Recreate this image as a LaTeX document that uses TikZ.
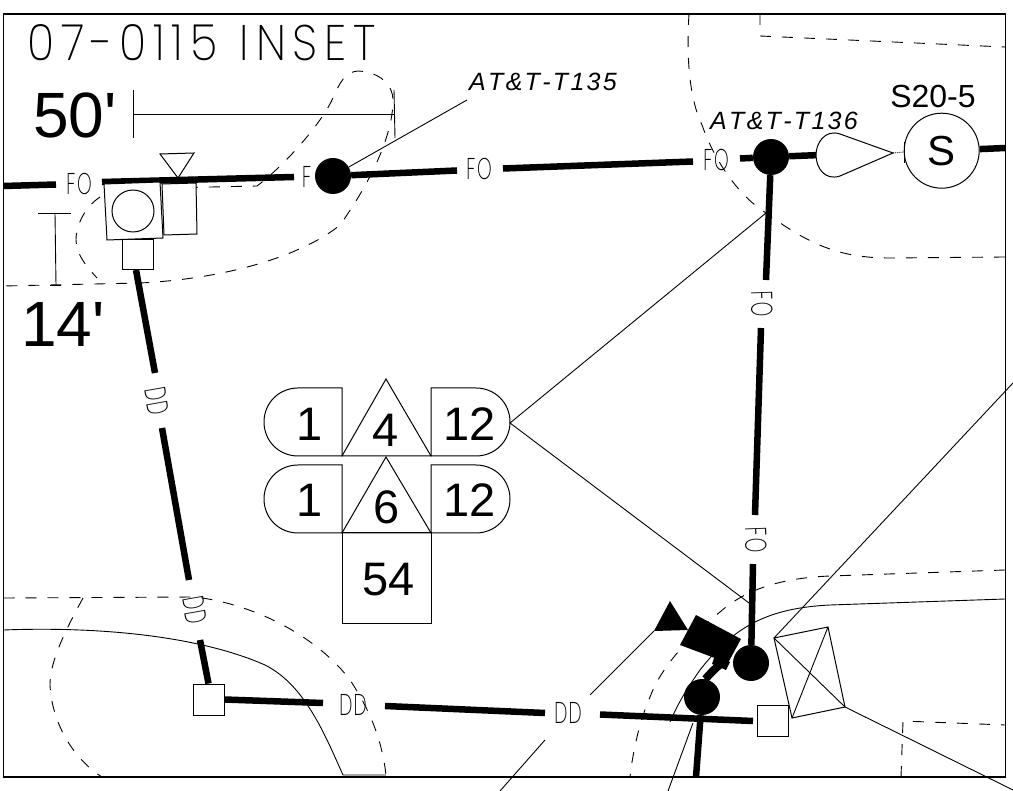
\documentclass[tikz,border=0pt]{standalone}
\usepackage{fontspec}
\setmainfont{Liberation Sans}
\newfontfamily\dimf{Liberation Sans}
\newfontfamily\thinf{Poppins ExtraLight}
\newfontfamily\titlef[LetterSpace=15]{Poppins ExtraLight}
\usetikzlibrary{calc}
\tikzset{x=1pt,y=-1pt,
 hair/.style={line width=0.9pt},
 thick run/.style={line width=6.5pt,line cap=butt},
 dash run/.style={line width=0.9pt,dash pattern=on 11pt off 11pt},
 blackdot/.style={circle,fill=black,minimum size=36pt,inner sep=0pt},
 whitesq/.style={draw,fill=white,line width=0.9pt,minimum size=31pt,inner sep=0pt},
 fo/.style={inner sep=0pt,font=\thinf\fontsize{30}{30}\selectfont,xscale=.62},
 big/.style={inner sep=0pt,font=\dimf\fontsize{64}{64}\selectfont},
 num/.style={inner sep=0pt,font=\fontsize{47}{47}\selectfont},
 tag/.style={inner sep=0pt,font=\itshape\fontsize{25}{26}\selectfont,anchor=west},
}
\newcommand{\spk}{\kern2.3pt}
\begin{document}
\begin{tikzpicture}
\useasboundingbox (0,0) rectangle (1013,791);
% dashed boundaries
\draw[dash run] (165,188) -- (257,186) .. controls (285,165) and (320,125) .. (332,100) .. controls (340,82) and (345,72) .. (358,71) .. controls (380,72) and (393,85) .. (393,100) .. controls (393,140) and (365,190) .. (340,225) .. controls (310,250) and (240,278) .. (140,283) -- (3.5,286);
\draw[dash run] (100,197) .. controls (85,207) and (76,225) .. (76,240) .. controls (76,255) and (88,268) .. (97,278);
\draw[dash run] (689,14) .. controls (686,60) and (690,100) .. (702,125) .. controls (718,170) and (745,200) .. (766,213) .. controls (810,245) and (840,258) .. (890,258) -- (1005,257);
\draw[dash run] (760,14) -- (760,36) -- (1005,47);
\draw[dash run] (1005,570) -- (830,576) .. controls (780,578) and (745,590) .. (720,612) .. controls (685,640) and (660,670) .. (650,697) .. controls (640,720) and (633,750) .. (630,777);
\draw[dash run] (901,777) -- (903,721) -- (1005,725);
\draw[dash run] (3.5,598) -- (195,597) .. controls (260,605) and (320,640) .. (350,680) .. controls (370,710) and (382,740) .. (386,775);
\draw[dash run] (83,598) .. controls (60,640) and (50,665) .. (50,685) .. controls (52,725) and (75,760) .. (102,777);
% solid curves
\draw[hair] (3.5,630) .. controls (80,627) and (190,632) .. (265,665) .. controls (305,685) and (325,735) .. (343,775) -- (386,775);
\draw[hair] (1005,599) -- (830,605) .. controls (770,608) and (735,625) .. (700,670) .. controls (688,687) and (678,703) .. (670,722);
% frame
\draw[line width=1.2pt] (3.5,14) rectangle (1005.5,777);
% title
\node[inner sep=0pt,anchor=west,font=\titlef\fontsize{50}{50}\selectfont,xscale=.9] (title) at (27,43) {07-0115\hspace{.5em}INSET};
% dimensions
\node[big,anchor=west] (d50) at (33,115) {50'};
\node[big,anchor=west] (d14) at (21,324) {14'};
\draw[hair] (133,90) -- (133,138);
\draw[hair] (133,114) -- (394,114);
\draw[hair] (394,90) -- (395,138);
\draw[hair] (38,213) -- (71,213);
\draw[hair] (55,213) -- (56,285);
\draw[hair] (50,285) -- (61,285);
% thick runs and dots
\coordinate (mainL) at (3.5,186);
\coordinate (mainR) at (1005.5,148);
\node[blackdot] (t135) at (333,176) {};
\node[blackdot] (t136) at (771,157) {};
\node[blackdot] (dotA) at (751,663) {};
\node[blackdot] (dotB) at (702,697) {};
\node[circle,draw,fill=white,line width=1pt,minimum size=75pt,inner sep=0pt,font=\fontsize{42}{42}\selectfont] (sw) at (941.7,150.7) {S};
\node[whitesq] (sqL) at (208.5,699.5) {};
\node[whitesq] (sqR) at (772.5,720.5) {};
\coordinate (sqRgap) at (753,721);
\draw[thick run] (mainL) -- (56,184.5);
\draw[thick run] (102,182) -- (294,177);
\draw[thick run] (t135) -- (457,170.5);
\draw[thick run] (503,168.5) -- (693,161.5);
\draw[thick run] (740,158.5) -- (t136);
\draw[thick run] (t136) -- (820,155);
\draw[thick run] (sw) -- (mainR);
\draw[thick run] (t136) -- (766,280);
\draw[thick run] (761,328) -- (755,515);
\draw[thick run] (753,564) -- (dotA);
\draw[thick run] (136,270) -- (155,373);
\draw[thick run] (162,428) -- (189,580);
\draw[thick run] (200,640) -- (sqL.north);
\draw[thick run] (sqL.east) -- (323,703);
\draw[thick run] (385,706) -- (545,713);
\draw[thick run] (600,714.5) -- (sqRgap);
\draw[thick run] (dotB) -- (696,777);
\draw[line width=8pt] (dotB) .. controls (704,682) and (710,672) .. (722,663);
% FO / DD labels
\node[fo] (fo1) at (79,184) {F\kern3pt O};
\node[fo,anchor=west] (fo2) at (302,177) {F};
\node[fo] (fo3) at (479,169) {F\kern3pt O};
\node[fo] (fo4) at (716,160) {F\kern3pt O};
\node[rotate=-88,fo] (fo5) at (762,304) {F\kern3pt O};
\node[rotate=-88,fo] (fo6) at (756,540) {F\kern3pt O};
\node[rotate=-80,fo] (dd1) at (157,401) {D\kern2pt D};
\node[rotate=-80,fo] (dd2) at (195,610) {D\kern2pt D};
\node[fo] (dd3) at (353,705) {D\kern2pt D};
\node[fo] (dd4) at (568,713) {D\kern2pt D};
% tags
\node[tag] (tag135) at (469,82) {A\spk T\spk \&\spk T\spk -\spk T\spk 1\spk 3\spk 5};
\node[tag] (tag136) at (710,121) {A\spk T\spk \&\spk T\spk -\spk T\spk 1\spk 3\spk 6};
\node[inner sep=0pt,font=\fontsize{32}{32}\selectfont] (s205) at (933,96) {S20-5};
\coordinate (lead135) at (467,100);
\draw[hair] (t135) -- (lead135);
% pole assembly
\draw[line width=1pt,fill=white] (162,184) -- (196,183) -- (197,234) -- (164,235) -- cycle;
\draw[line width=1pt] (160,154) -- (194,153) -- (178,178) -- cycle;
\draw[line width=1pt,fill=white] (122,240) rectangle (153,270);
\draw[line width=1pt,fill=white] (104,184) -- (160,182) -- (163,238) -- (107,240) -- cycle;
\node[circle,draw,line width=1pt,minimum size=42pt,inner sep=0pt] (pole) at (133,211) {};
% teardrop
\draw[line width=1pt,fill=white] (893,153) -- (840,134) .. controls (825,129) and (816,143) .. (816,155) .. controls (816,168) and (825,181) .. (840,176) -- cycle;
\draw[hair,densely dotted] (893,153) -- (904,152);
\draw[hair] (904,142) -- (904,163);
% badge
\draw[line width=1pt,fill=white] (342,388) -- (298,388) .. controls (279,388) and (264,403) .. (264,422) .. controls (264,441) and (279,456) .. (298,456) -- (342,456) -- cycle;
\draw[line width=1pt,fill=white] (431,388) -- (476,388) .. controls (495,388) and (510,403) .. (510,422) .. controls (510,441) and (495,456) .. (476,456) -- (431,456) -- cycle;
\draw[line width=1pt] (342,456) -- (386,379) -- (431,456) -- cycle;
\draw[line width=1pt,fill=white] (342,465) -- (298,465) .. controls (279,465) and (264,480) .. (264,499) .. controls (264,518) and (279,533) .. (298,533) -- (342,533) -- cycle;
\draw[line width=1pt,fill=white] (431,465) -- (476,465) .. controls (495,465) and (510,480) .. (510,499) .. controls (510,518) and (495,533) .. (476,533) -- (431,533) -- cycle;
\draw[line width=1pt] (342,533) -- (386,457) -- (431,533) -- cycle;
\draw[line width=1pt] (342,533) rectangle (431,623);
\node[num] (n1a) at (310,424) {1};
\node[num] (n4) at (386,430) {4};
\node[num] (n12a) at (470,424) {12};
\node[num] (n1b) at (310,500) {1};
\node[num] (n6) at (387,507) {6};
\node[num] (n12b) at (470,500) {12};
\node[num] (n54) at (389,580) {54};
\coordinate (bdg) at (510,423);
\coordinate (leadA) at (766,213);
\coordinate (leadB) at (749,603);
\draw[hair] (bdg) -- (leadA);
\draw[hair] (bdg) -- (leadB);
% bottom right
\fill (696,615) -- (741,639) -- (728,663) -- (680,645) -- cycle;
\fill (715,655) -- (730,662) -- (726,670) -- (712,664) -- cycle;
\fill (670,601) -- (688,630) -- (654,631) -- cycle;
\draw[hair] (654,631) -- (590,695);
\draw[hair] (545,740) -- (500,791);
\draw[hair] (1013,383) -- (774,638);
\draw[line width=1pt] (774,638) -- (828,627) -- (845,707) -- (792,718) -- cycle;
\draw[hair] (774,638) -- (845,707);
\draw[hair] (828,627) -- (792,718);
\draw[hair] (845,707) -- (1013,790);
\draw[hair] (693,723) -- (668,791);
\end{tikzpicture}
\end{document}
